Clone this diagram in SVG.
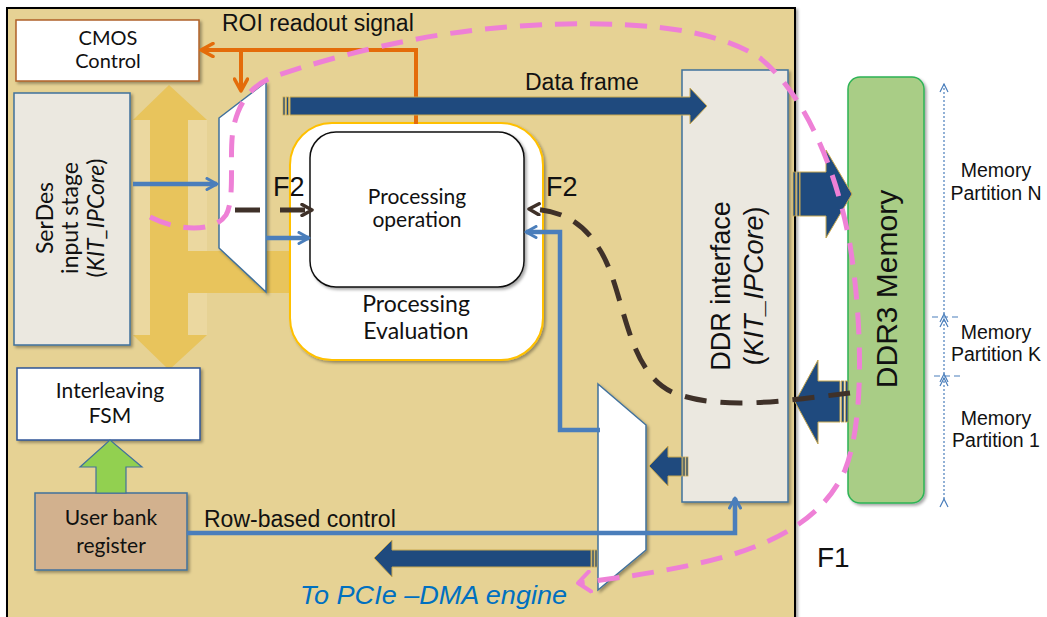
<svg xmlns="http://www.w3.org/2000/svg" width="1047" height="617" viewBox="0 0 1047 617">
  <style>
    .lbl { font-family: "Liberation Sans", Arial, sans-serif; fill: #111; }
    .cal { font-family: Lato, "Open Sans", sans-serif; fill: #111; }
    .box { stroke-width: 1.5; }
    .blueLine { fill: none; stroke: #4A7EBB; stroke-width: 4.5; }
    .orangeLine { fill: none; stroke: #E46C0A; stroke-width: 4; }
    .bigArrow { fill: #1F4A7E; stroke: #C8A850; stroke-width: 1; }
    .stripe { fill: #1F4A7E; stroke: #C8A850; stroke-width: 0.8; }
    .mux { fill: #FFFFFF; stroke: #41719C; stroke-width: 1.5; }
    .f2 { fill: none; stroke: #3F3129; stroke-width: 5; }
    .f1 { fill: none; stroke: #EE80D6; stroke-width: 5; stroke-dasharray: 22 13; }
    .part { fill: none; stroke: #4A7EBB; stroke-width: 1.2; stroke-dasharray: 2 2; }
    .tick { fill: none; stroke: #4A7EBB; stroke-width: 1.2; stroke-dasharray: 6 4; }
  </style>
  <defs>
    <filter id="shadow" x="-10%" y="-10%" width="130%" height="130%">
      <feDropShadow dx="2" dy="2" stdDeviation="1.5" flood-color="#000" flood-opacity="0.35"/>
    </filter>
    <marker id="vBlue" viewBox="0 0 14 14" refX="12" refY="7" markerWidth="14" markerHeight="14" markerUnits="userSpaceOnUse" orient="auto">
      <path d="M2,1.5 L12,7 L2,12.5" fill="none" stroke="#4A7EBB" stroke-width="3" stroke-linecap="round" stroke-linejoin="round"/>
    </marker>
    <marker id="vOrange" viewBox="0 0 16 16" refX="14" refY="8" markerWidth="16" markerHeight="16" markerUnits="userSpaceOnUse" orient="auto">
      <path d="M2,1.5 L14,8 L2,14.5" fill="none" stroke="#E46C0A" stroke-width="3.5" stroke-linecap="round" stroke-linejoin="round"/>
    </marker>
    <marker id="vBrown" viewBox="0 0 14 14" refX="12" refY="7" markerWidth="14" markerHeight="14" markerUnits="userSpaceOnUse" orient="auto">
      <path d="M2,1.5 L12,7 L2,12.5" fill="none" stroke="#3F3129" stroke-width="3.5" stroke-linecap="round" stroke-linejoin="round"/>
    </marker>
    <marker id="vPink" viewBox="0 0 16 24" refX="14" refY="12" markerWidth="16" markerHeight="24" markerUnits="userSpaceOnUse" orient="auto">
      <path d="M2,2 L14,12 L2,22" fill="none" stroke="#EE80D6" stroke-width="4" stroke-linecap="round" stroke-linejoin="round"/>
    </marker>
    <marker id="vDot" viewBox="0 0 10 10" refX="9" refY="5" markerWidth="10" markerHeight="10" markerUnits="userSpaceOnUse" orient="auto">
      <path d="M1,1 L9,5 L1,9" fill="none" stroke="#4A7EBB" stroke-width="1.2"/>
    </marker>
  </defs>

  <rect width="1047" height="617" fill="#FFFFFF"/>

  <!-- FPGA board panel -->
  <g id="panel">
    <rect x="7" y="8" width="788" height="620" fill="#E6D294" stroke="#000" stroke-width="2" filter="url(#shadow)"/>
  </g>

  <!-- shared gold bus between CMOS control, SerDes and interleaving FSM -->
  <g id="gold-bus">
    <rect x="133" y="120" width="74" height="215" fill="#EBD8A0"/>
    <rect x="150" y="118" width="38" height="220" fill="#E8C45C"/>
    <polygon points="133,120 207,120 169,85" fill="#E8C45C"/>
    <polygon points="133,335 207,335 169,370" fill="#E8C45C"/>
    <rect x="188" y="251" width="102" height="42" fill="#E8C45C"/>
  </g>

  <g id="cmos-control">
    <rect x="16" y="20" width="183" height="61" fill="#FFFFFF" stroke="#B0622A" class="box" filter="url(#shadow)"/>
    <text class="cal" font-size="20" text-anchor="middle" x="108" y="45">CMOS</text>
    <text class="cal" font-size="20" text-anchor="middle" x="108" y="68">Control</text>
  </g>

  <g id="serdes">
    <rect x="14" y="93" width="116" height="252" fill="#EBE8E0" stroke="#41719C" class="box" filter="url(#shadow)"/>
    <g class="cal" font-size="23" text-anchor="middle">
      <text transform="translate(53,218) rotate(-90)">SerDes</text>
      <text transform="translate(78,218) rotate(-90)">input stage</text>
      <text transform="translate(104,218) rotate(-90)">(<tspan font-style="italic">KIT_IPCore</tspan>)</text>
    </g>
  </g>

  <g id="interleaving-fsm">
    <rect x="17" y="368" width="183" height="72" fill="#FFFFFF" stroke="#2F5597" class="box" filter="url(#shadow)"/>
    <text class="cal" font-size="21" text-anchor="middle" x="110" y="398">Interleaving</text>
    <text class="cal" font-size="21" text-anchor="middle" x="110" y="423">FSM</text>
  </g>

  <g id="user-bank">
    <rect x="35" y="493" width="152" height="77" fill="#D2B18E" stroke="#41719C" class="box" filter="url(#shadow)"/>
    <text class="cal" font-size="21" text-anchor="middle" x="111" y="525">User bank</text>
    <text class="cal" font-size="21" text-anchor="middle" x="111" y="553">register</text>
  </g>

  <g id="bank-to-fsm">
    <polygon points="96,493 96,467 80,467 110,440 142,467 126,467 126,493" fill="#92D050" stroke="#41719C" stroke-width="1.2"/>
  </g>

  <g id="mux-in">
    <polygon class="mux" points="219,118 266,82 266,292 219,248" filter="url(#shadow)"/>
  </g>

  <g id="processing-evaluation">
    <rect x="290" y="123" width="253" height="237" rx="42" fill="#FFFFFF" stroke="#FFC000" stroke-width="2" filter="url(#shadow)"/>
    <text class="cal" font-size="23" text-anchor="middle" x="416" y="312">Processing</text>
    <text class="cal" font-size="23" text-anchor="middle" x="416" y="339">Evaluation</text>
  </g>

  <g id="processing-operation">
    <rect x="310" y="132" width="214" height="155" rx="26" fill="#FFFFFF" stroke="#111" stroke-width="1.5" filter="url(#shadow)"/>
    <text class="cal" font-size="21" text-anchor="middle" x="417" y="204">Processing</text>
    <text class="cal" font-size="21" text-anchor="middle" x="417" y="227">operation</text>
  </g>

  <g id="mux-out">
    <polygon class="mux" points="598,384 646,425 646,550 598,590" filter="url(#shadow)"/>
  </g>

  <g id="ddr-interface">
    <rect x="682" y="70" width="106" height="432" fill="#EBE8E0" stroke="#41719C" class="box" filter="url(#shadow)"/>
    <g class="lbl" font-size="27" text-anchor="middle">
      <text transform="translate(730,286) rotate(-90)">DDR interface</text>
      <text transform="translate(763,286) rotate(-90)">(<tspan font-style="italic">KIT_IPCore</tspan>)</text>
    </g>
  </g>

  <g id="ddr3-memory">
    <rect x="848" y="77" width="76" height="426" rx="12" fill="#A9CD86" stroke="#2DB356" stroke-width="1.5" filter="url(#shadow)"/>
    <text class="lbl" font-size="30" text-anchor="middle" transform="translate(897,289) rotate(-90)">DDR3 Memory</text>
  </g>

  <g id="memory-partitions">
    <line class="part" x1="944" y1="314" x2="944" y2="84" marker-start="url(#vDot)" marker-end="url(#vDot)"/>
    <line class="part" x1="944" y1="374" x2="944" y2="319" marker-start="url(#vDot)" marker-end="url(#vDot)"/>
    <line class="part" x1="944" y1="499" x2="944" y2="378" marker-start="url(#vDot)" marker-end="url(#vDot)"/>
    <line class="tick" x1="932" y1="317" x2="958" y2="317"/>
    <line class="tick" x1="934" y1="376" x2="962" y2="376"/>
    <g class="lbl" font-size="19.5" text-anchor="middle">
      <text x="996" y="177">Memory</text>
      <text x="996" y="200">Partition N</text>
      <text x="996" y="339">Memory</text>
      <text x="996" y="361">Partition K</text>
      <text x="996" y="425">Memory</text>
      <text x="996" y="447">Partition 1</text>
    </g>
  </g>

  <!-- connectors -->
  <g id="connectors">
    <!-- ROI readout signal -->
    <polyline class="orangeLine" points="416,124 416,50 201,50" marker-end="url(#vOrange)"/>
    <line class="orangeLine" x1="241" y1="50" x2="241" y2="91" marker-end="url(#vOrange)"/>

    <!-- pixel data paths -->
    <line class="blueLine" x1="133" y1="184" x2="217" y2="184" marker-end="url(#vBlue)"/>
    <line class="blueLine" x1="266" y1="238" x2="309" y2="238" marker-end="url(#vBlue)"/>
    <polyline class="blueLine" points="600,430 560,430 560,232 526,232" marker-end="url(#vBlue)"/>
    <polyline class="blueLine" points="187,533 735,533 735,498" marker-end="url(#vBlue)"/>

    <!-- wide data buses -->
    <polygon class="bigArrow" points="290,97 690,97 690,88 707,106 690,124 690,115 290,115"/>
    <rect class="stripe" x="283" y="97" width="2" height="18"/>
    <rect class="stripe" x="286.5" y="97" width="2" height="18"/>

    <polygon class="bigArrow" points="800,172 826,172 826,150 852,194 826,238 826,216 800,216"/>
    <rect class="stripe" x="793" y="172" width="2.5" height="44"/>
    <rect class="stripe" x="797" y="172" width="2.5" height="44"/>

    <polygon class="bigArrow" points="840,381 818,381 818,360 795,402 818,444 818,422 840,422"/>
    <rect class="stripe" x="841.5" y="381" width="2.5" height="41"/>
    <rect class="stripe" x="845.5" y="381" width="2.5" height="41"/>

    <polygon class="bigArrow" points="682,457 668,457 668,446 649,466 668,486 668,476 682,476"/>
    <rect class="stripe" x="683" y="457" width="2" height="19"/>
    <rect class="stripe" x="686" y="457" width="2" height="19"/>

    <polygon class="bigArrow" points="591,550 392,550 392,540 374,558 392,577 392,567 591,567"/>
    <rect class="stripe" x="592" y="550" width="2" height="17"/>
    <rect class="stripe" x="595" y="550" width="2" height="17"/>

    <!-- F2 paths -->
    <line class="f2" x1="235" y1="210" x2="312" y2="210" stroke-dasharray="25 20" marker-end="url(#vBrown)"/>
    <path class="f2" d="M850,393 C790,400 720,412 672,392 C625,370 625,290 600,250 C585,225 565,210 529,209" stroke-dasharray="22 14" marker-end="url(#vBrown)"/>

    <!-- F1 path -->
    <path class="f1" d="M150,217 C180,232 215,232 226,215 C236,198 228,150 234,125 C240,100 252,85 275,76 C330,58 420,32 520,26 C620,20 710,25 760,58 C800,90 835,160 850,245 C862,320 865,420 845,470 C825,515 780,545 700,563 C660,572 620,578 578,583" marker-end="url(#vPink)"/>
  </g>

  <g id="labels">
    <text class="lbl" font-size="23" x="222" y="31">ROI readout signal</text>
    <text class="lbl" font-size="23" x="525" y="90">Data frame</text>
    <text class="lbl" font-size="23" x="204" y="527">Row-based control</text>
    <text class="lbl" font-size="27" x="273" y="196">F2</text>
    <text class="lbl" font-size="27" x="546" y="196">F2</text>
    <text class="lbl" font-size="28" x="817" y="567">F1</text>
    <text class="lbl" font-size="26.5" font-style="italic" style="fill:#0070C0" x="300" y="604" textLength="267" lengthAdjust="spacingAndGlyphs">To PCIe –DMA engine</text>
  </g>
</svg>
